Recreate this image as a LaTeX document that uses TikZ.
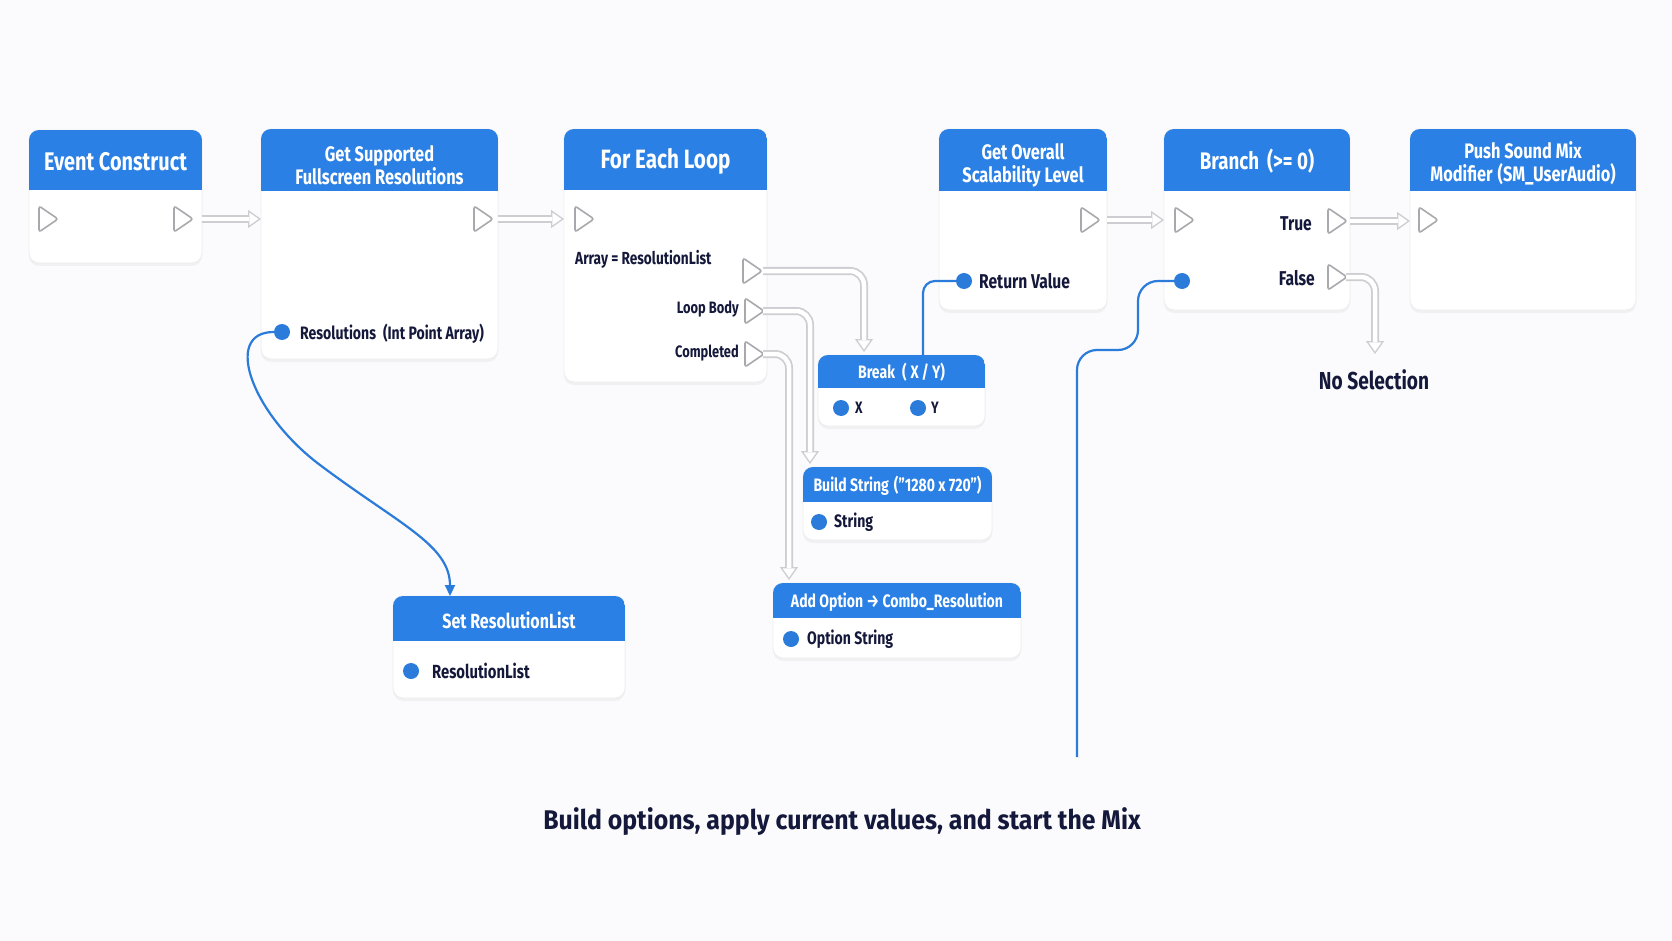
\documentclass[tikz,border=0pt]{standalone}
\usepackage{fontspec}
\setmainfont{Fira Sans}[FakeStretch=0.78]
\newfontfamily\capfont{Fira Sans}[FakeStretch=0.92]
\usetikzlibrary{arrows.meta,shadows}
\definecolor{hdblue}{HTML}{2A80E4}
\definecolor{wireblue}{HTML}{2B7BDA}
\definecolor{ink}{HTML}{14183A}
\definecolor{pingray}{HTML}{A9A9AD}
\definecolor{pipegray}{HTML}{CDCDD2}
\definecolor{bgc}{HTML}{FBFBFD}
\newcommand\bpnode[6]{%
  \node[bodybox, minimum width=#4pt, minimum height=#5pt, anchor=north west] (#1) at (#2,#3) {};
  \begin{scope}
    \clip[rounded corners=10pt] (#1.north west) rectangle (#1.south east);
    \fill[hdblue] (#1.north west) rectangle ([yshift=-#6pt]#1.north east);
  \end{scope}
  \coordinate (#1-hc) at ([yshift=-#6pt/2]#1.north);
}
\tikzset{
  bodybox/.style={fill=white, draw=black!7, line width=0.8pt, rounded corners=10pt, inner sep=0pt, outer sep=0pt,
    drop shadow={opacity=0.08, shadow xshift=0pt, shadow yshift=-3pt}},
  ttl/.style={text=white, font=\bfseries\fontsize{25.5}{27}\selectfont, inner sep=0pt},
  ttltwo/.style={text=white, font=\bfseries\fontsize{21}{23}\selectfont, align=center, inner sep=0pt},
  ttlsm/.style={text=white, font=\bfseries\fontsize{18}{20}\selectfont, inner sep=0pt},
  lbl/.style={text=ink, font=\bfseries\fontsize{18}{20}\selectfont, inner sep=0pt},
  lblsm/.style={text=ink, font=\bfseries\fontsize{16.5}{18}\selectfont, inner sep=0pt},
  dpin/.style={circle, fill=wireblue, minimum size=16pt, inner sep=0pt},
  execpin/.pic={\draw[pingray, line width=1.6pt, fill=white, rounded corners=2.5pt] (-9,-13) -- (10,0) -- (-9,13) -- cycle;},
  pipe/.style={draw=pipegray, line width=8pt, -{Triangle[length=13pt,width=18pt,fill=white,line width=1.3pt]},
    postaction={draw=white, line width=4.5pt, -, shorten >=12pt}},
  wire/.style={draw=wireblue, line width=2.2pt},
}
\begin{document}
\begin{tikzpicture}[x=1pt, y=-1pt]
\fill[bgc] (0,0) rectangle (1672,941);
\useasboundingbox (0,0) rectangle (1672,941);

% boxes
\bpnode{ec}{29}{130}{173}{133}{60}
\bpnode{gs}{261}{129}{237}{230}{62}
\bpnode{fe}{564}{129}{203}{253}{61}
\bpnode{go}{939}{129}{168}{181}{62}
\bpnode{br}{1164}{129}{186}{181}{62}
\bpnode{push}{1410}{129}{226}{181}{62}
\bpnode{brk}{818}{355}{167}{71}{33}
\bpnode{bs}{803}{467}{189}{73}{35}
\bpnode{ao}{773}{583}{248}{75}{35}
\bpnode{sr}{393}{596}{232}{102}{45}

% titles
\node[ttl] (ec-t) at ([yshift=-2pt]ec-hc) {Event Construct};
\node[ttltwo] (gs-t) at ([yshift=-5pt]gs-hc) {Get Supported\\Fullscreen Resolutions};
\node[ttl, font=\bfseries\fontsize{26.5}{28}\selectfont] (fe-t) at ([yshift=-2pt]fe-hc) {For Each Loop};
\node[ttltwo] (go-t) at ([yshift=-5pt]go-hc) {Get Overall\\Scalability Level};
\node[ttl, font=\bfseries\fontsize{24}{26}\selectfont] (br-t) at ([yshift=-1pt]br-hc) {Branch\hspace{8pt}(>= 0)};
\node[ttltwo] (push-t) at ([yshift=-3pt]push-hc) {Push Sound Mix\\Modifier\hspace{5pt}(SM\_UserAudio)};
\node[ttlsm] (brk-t) at ([yshift=-1pt]brk-hc) {Break\hspace{7pt}(\hspace{4pt}X\hspace{3pt}/\hspace{3pt}Y)};
\node[ttlsm] (bs-t) at ([yshift=-1pt]bs-hc) {Build String\hspace{5pt}("1280 x 720")};
\node[ttlsm] (ao-t) at ([yshift=-2pt]ao-hc) {Add Option → Combo\_Resolution};
\node[ttlsm, font=\bfseries\fontsize{20.5}{22}\selectfont] (sr-t) at ([yshift=-2pt]sr-hc) {Set ResolutionList};

% exec pins
\coordinate (ec-in) at (48,219);   \pic at (ec-in) {execpin};
\coordinate (ec-out) at (183,219); \pic at (ec-out) {execpin};
\coordinate (gs-out) at (483,219); \pic at (gs-out) {execpin};
\coordinate (fe-in) at (584,219);  \pic at (fe-in) {execpin};
\coordinate (fe-arr) at (752,271); \pic at (fe-arr) {execpin};
\coordinate (fe-body) at (754,311); \pic at (fe-body) {execpin};
\coordinate (fe-comp) at (754,354); \pic at (fe-comp) {execpin};
\coordinate (go-out) at (1090,220); \pic at (go-out) {execpin};
\coordinate (br-in) at (1184,220); \pic at (br-in) {execpin};
\coordinate (br-true) at (1337,221); \pic at (br-true) {execpin};
\coordinate (br-false) at (1337,277); \pic at (br-false) {execpin};
\coordinate (push-in) at (1428,220); \pic at (push-in) {execpin};

% labels
\node[lbl, anchor=west] (gs-res-l) at (300,334) {Resolutions\hspace{7pt}(Int Point Array)};
\node[lblsm, font=\bfseries\fontsize{17.5}{19}\selectfont, anchor=west] (fe-arr-l) at (575,259) {Array = ResolutionList};
\node[lblsm, anchor=east] (fe-body-l) at (739,309) {Loop Body};
\node[lblsm, anchor=east] (fe-comp-l) at (739,353) {Completed};
\node[lbl, font=\bfseries\fontsize{20}{22}\selectfont, anchor=west] (go-ret-l) at (979,281) {Return Value};
\node[lbl, font=\bfseries\fontsize{20}{22}\selectfont, anchor=east] (br-true-l) at (1312,224) {True};
\node[lbl, font=\bfseries\fontsize{20}{22}\selectfont, anchor=east] (br-false-l) at (1315,278) {False};
\node[lblsm, anchor=west] (brk-x-l) at (855,408) {X};
\node[lblsm, anchor=west] (brk-y-l) at (931,408) {Y};
\node[lbl, anchor=west] (bs-s-l) at (834,522) {String};
\node[lbl, anchor=west] (ao-s-l) at (807,639) {Option String};
\node[lbl, font=\bfseries\fontsize{19}{21}\selectfont, anchor=west] (sr-l) at (432,671) {ResolutionList};
\node[text=ink, font=\bfseries\fontsize{24.5}{26}\selectfont, inner sep=0pt] (nosel) at (1374,380) {No Selection};
\node[text=ink, font=\capfont\bfseries\fontsize{27}{30}\selectfont, inner sep=0pt] (caption) at (842,822) {Build options, apply current values, and start the Mix};

% connector targets
\coordinate (brk-in) at (864,352);
\coordinate (brk-ret) at (923,355);
\coordinate (bs-in) at (810,464);
\coordinate (ao-in) at (789,580);
\coordinate (ns-in) at (1375,354);
\coordinate (sr-in) at (450,596);
\coordinate (wire-end) at (1077,757);

% exec pipes
\draw[pipe] (ec.east |- ec-out) -- (gs.west |- ec-out);
\draw[pipe] (gs.east |- gs-out) -- (fe.west |- gs-out);
\draw[pipe] (go.east |- go-out) -- (br.west |- go-out);
\draw[pipe] (br.east |- br-true) -- (push.west |- br-true);
\draw[pipe, rounded corners=14pt] ([xshift=-4pt]fe.east |- fe-arr) -| (brk-in);
\draw[pipe, rounded corners=14pt] ([xshift=-4pt]fe.east |- fe-body) -| (bs-in);
\draw[pipe, rounded corners=14pt] ([xshift=-4pt]fe.east |- fe-comp) -| (ao-in);
\draw[pipe, rounded corners=14pt] ([xshift=-4pt]br.east |- br-false) -| (ns-in);

% data pins
\node[dpin] (gs-res) at (282,332) {};
\node[dpin] (go-ret) at (964,281) {};
\node[dpin] (br-dat) at (1182,281) {};
\node[dpin] (brk-x) at (841,408) {};
\node[dpin] (brk-y) at (918,408) {};
\node[dpin] (bs-s) at (819,522) {};
\node[dpin] (ao-s) at (791,639) {};
\node[dpin] (sr-p) at (411,671) {};

% data wires
\draw[wire, rounded corners=12pt] (go-ret) -| (brk-ret);
\draw[wire, rounded corners=20pt] (br-dat) -| (1138,350) -| (wire-end);
\draw[wire, -{Triangle[length=11pt,width=10pt]}] (gs-res.west) .. controls (222,332) and (252,414) .. (320,465) .. controls (400,525) and (450,545) .. (sr-in);
\end{tikzpicture}
\end{document}
